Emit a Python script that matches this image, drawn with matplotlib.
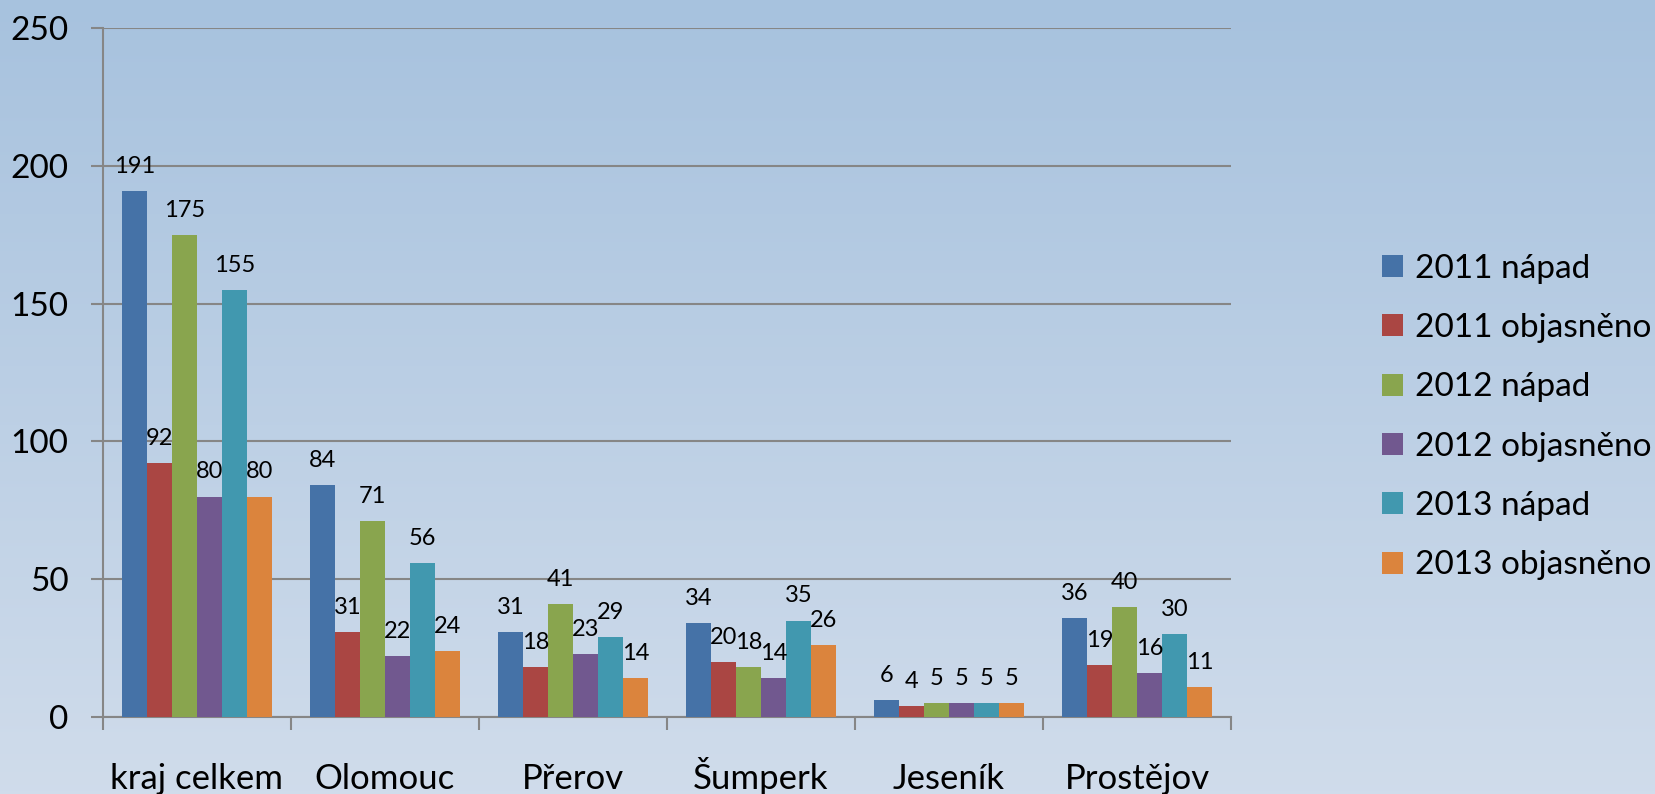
import numpy as np
import matplotlib
matplotlib.use("Agg")
import matplotlib.pyplot as plt
from matplotlib.patches import Patch

plt.rcParams['font.family'] = ['Lato', 'DejaVu Sans']

districts = ["kraj celkem", "Olomouc", "Přerov", "Šumperk", "Jeseník", "Prostějov"]
series = ["2011 nápad", "2011 objasněno", "2012 nápad",
          "2012 objasněno", "2013 nápad", "2013 objasněno"]
napad_2011 = [191, 84, 31, 34, 6, 36]
obj_2011 = [92, 31, 18, 20, 4, 19]
napad_2012 = [175, 71, 41, 18, 5, 40]
obj_2012 = [80, 22, 23, 14, 5, 16]
napad_2013 = [155, 56, 29, 35, 5, 30]
obj_2013 = [80, 24, 14, 26, 5, 11]
values = [napad_2011, obj_2011, napad_2012, obj_2012, napad_2013, obj_2013]
colors = ["#4572A7", "#AA4643", "#89A54E", "#71588F", "#4198AF", "#DB843D"]
yticks = [0, 50, 100, 150, 200, 250]

W, H = 1656, 794
fig = plt.figure(figsize=(W / 100, H / 100), dpi=100)

# background gradient
bg = fig.add_axes([0, 0, 1, 1], zorder=-10)
top = np.array([0.655, 0.761, 0.871])
bot = np.array([0.816, 0.863, 0.922])
t = np.linspace(0, 1, 256)[:, None]
grad = top * (1 - t) + bot * t
bg.imshow(grad[:, None, :], aspect="auto", extent=[0, 1, 0, 1])
bg.axis("off")

ax = fig.add_axes([103 / W, 1 - 717 / H, (1231 - 103) / W, (717 - 28) / H])
ax.set_facecolor("none")

n = len(series)
w = 0.8 / n
x = np.arange(len(districts)) + 0.5
for i, (vals, c) in enumerate(zip(values, colors)):
    pos = x - 0.4 + w * (i + 0.5)
    ax.bar(pos, vals, width=w, color=c, zorder=3)
    for px, v in zip(pos, vals):
        ax.annotate(str(v), (px, v), xytext=(0, 13), textcoords="offset points",
                    ha="center", va="baseline", fontsize=17, zorder=4)

grey = "#868686"
ax.set_ylim(0, 250)
ax.set_xlim(0, len(districts))
ax.set_yticks(yticks)
ax.yaxis.grid(True, color=grey, lw=1.5, zorder=0)
ax.tick_params(axis="y", direction="out", length=9, width=1.5, color=grey,
               labelsize=24, pad=16)
ax.set_xticks(np.arange(len(districts) + 1))
ax.set_xticklabels([])
ax.tick_params(axis="x", which="major", direction="out", length=9, width=1.5, color=grey)
# category names on a common baseline
for xi, name in zip(x, districts):
    ax.annotate(name, (xi, 0), xycoords=("data", "axes fraction"),
                xytext=(0, -52), textcoords="offset points",
                ha="center", va="baseline", fontsize=25)
for s in ["top", "right"]:
    ax.spines[s].set_visible(False)
for s in ["left", "bottom"]:
    ax.spines[s].set_color(grey)
    ax.spines[s].set_linewidth(1.5)

handles = [Patch(facecolor=c, edgecolor="none") for c in colors]
fig.legend(handles, series, loc="center left", bbox_to_anchor=(1352 / W, 1 - 417 / H),
           frameon=False, fontsize=24, handlelength=0.63, handleheight=0.63,
           handletextpad=0.35, labelspacing=0.88)

fig.savefig("out.png", dpi=100)
